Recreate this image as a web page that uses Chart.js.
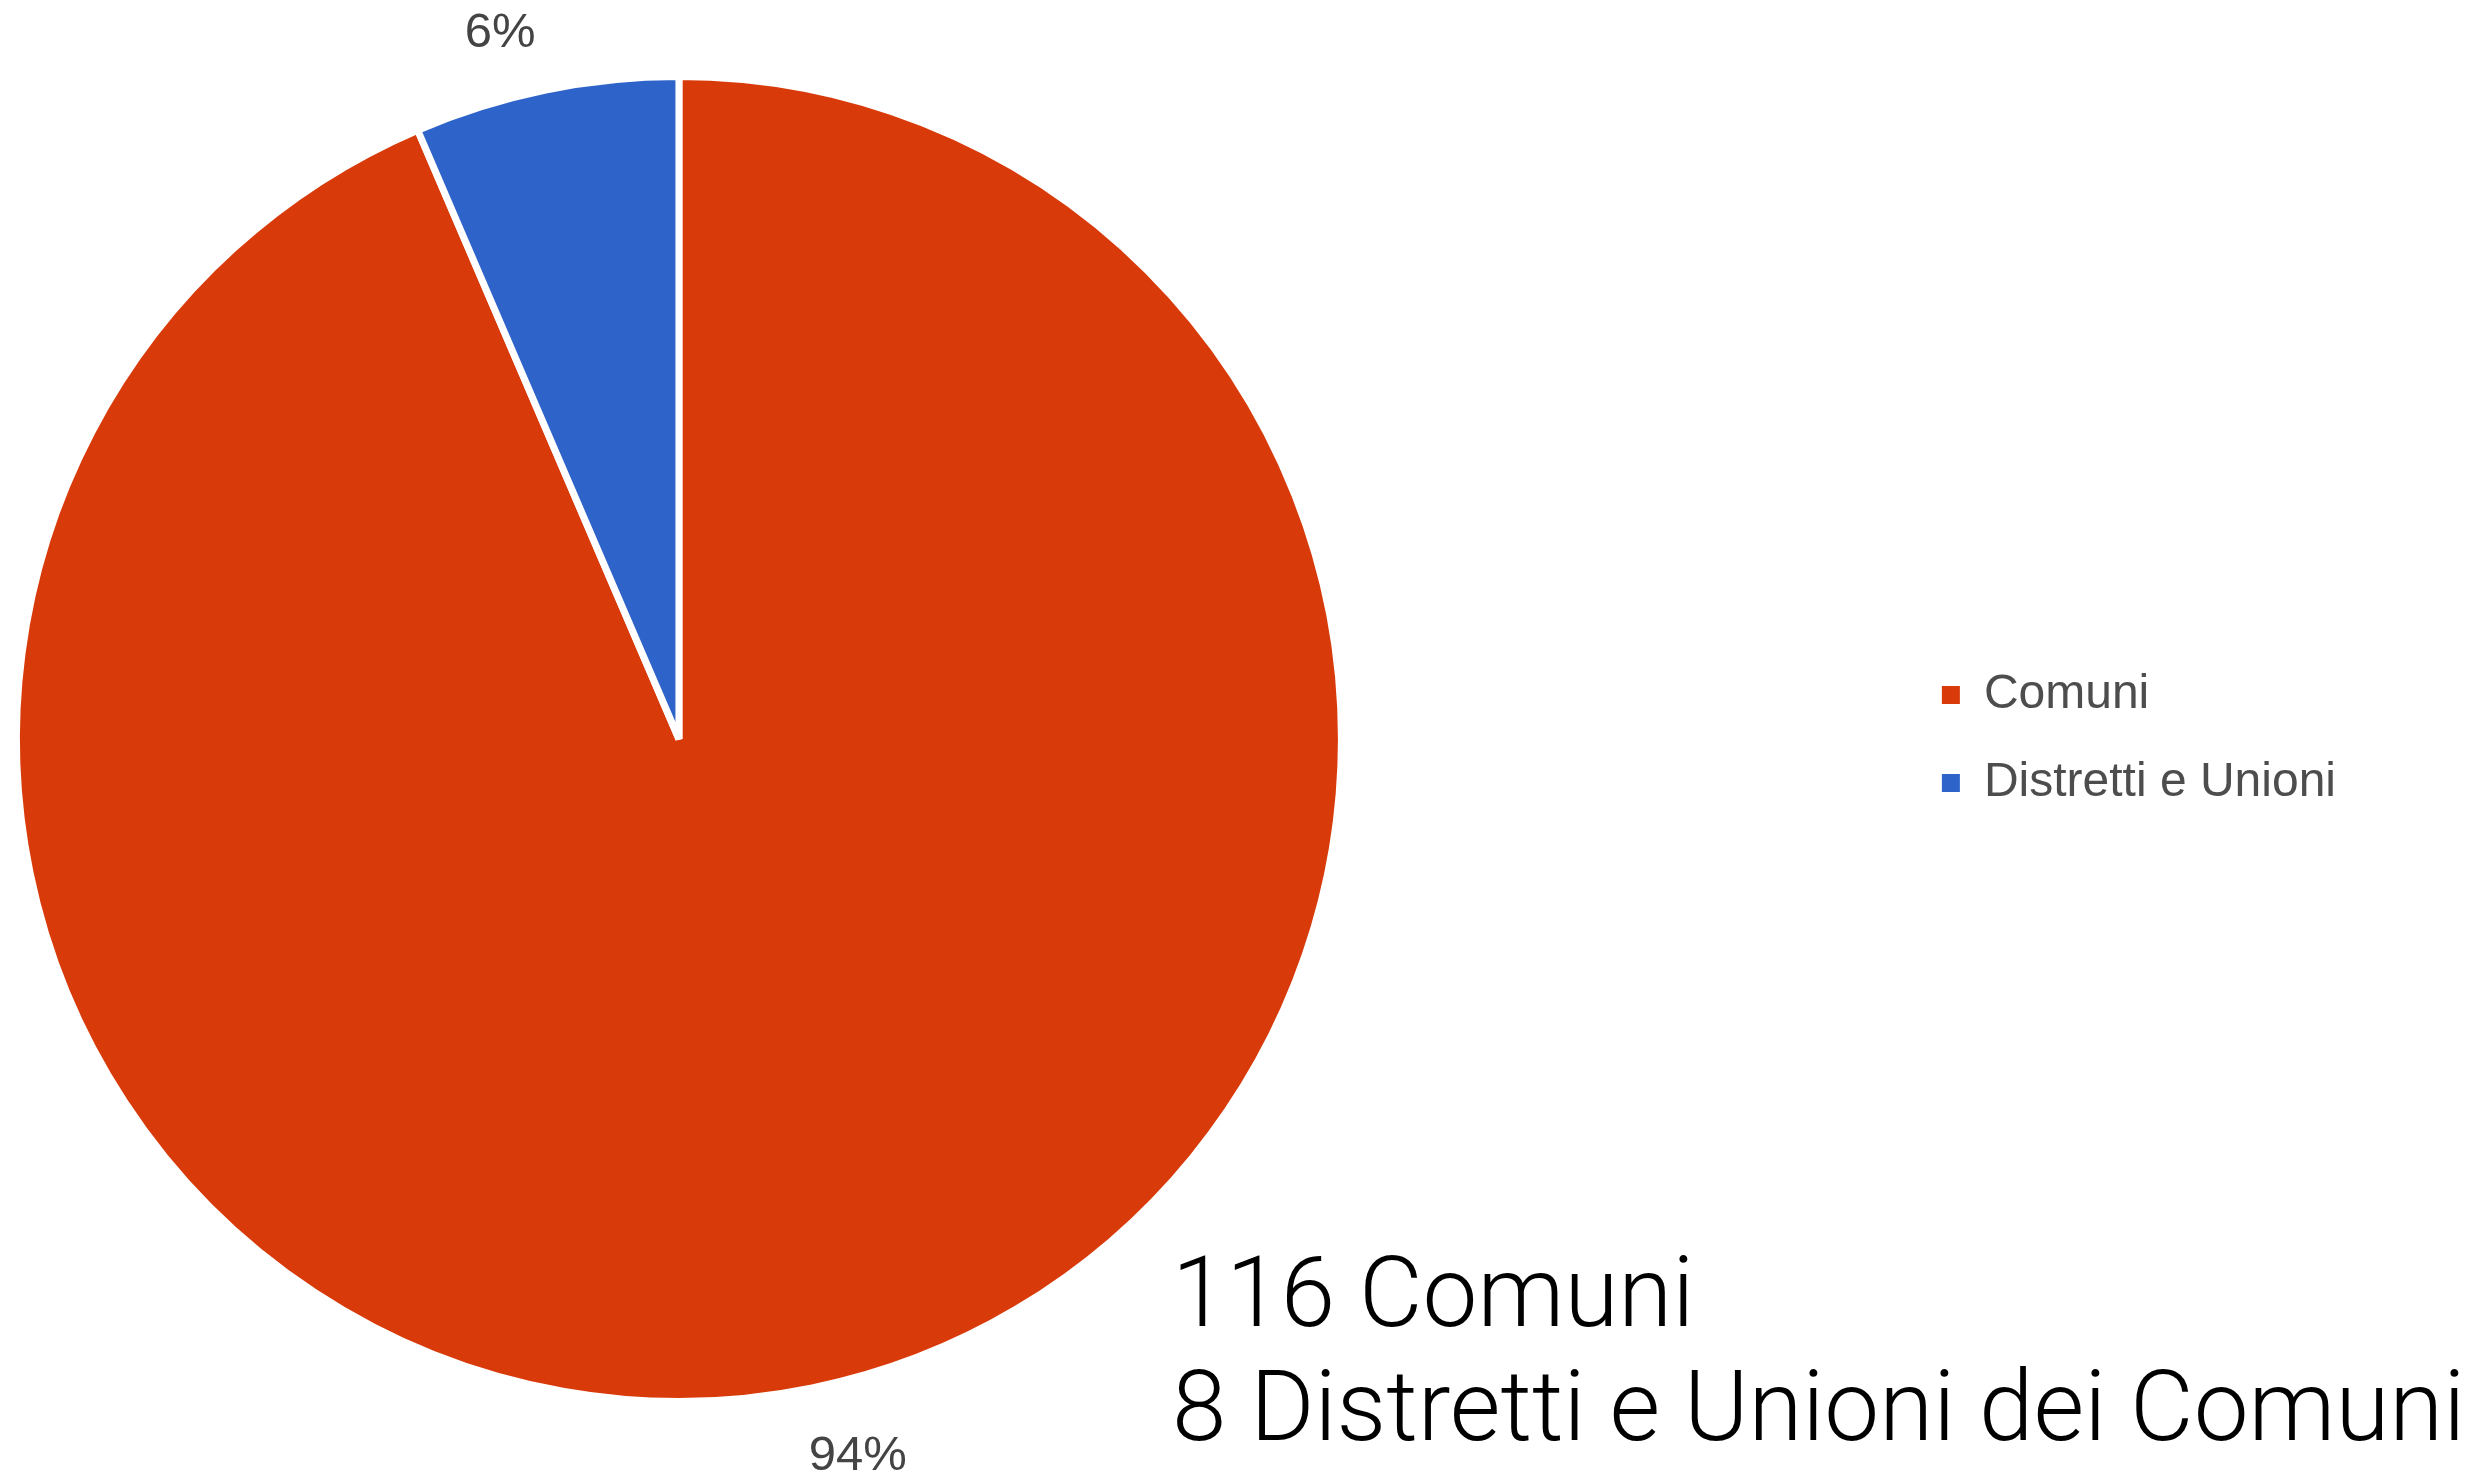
<!DOCTYPE html>
<html>
<head>
<meta charset="utf-8">
<script src="https://cdn.jsdelivr.net/npm/chart.js@4/dist/chart.umd.min.js"></script>
<style>
  html, body { margin: 0; padding: 0; background: #ffffff; }
  #wrap { position: relative; width: 2488px; height: 1478px; }
</style>
</head>
<body>
<div id="wrap"><canvas id="c"></canvas></div>
<script>
// ---- data ----
const categories = ['Comuni', 'Distretti e Unioni'];
const counts = [116, 8];
const sliceColors = ['#d93a09', '#2e64c9'];
const annotationLines = ['116 Comuni', '8 Distretti e Unioni dei Comuni'];

const pctLabelPlugin = {
  id: 'pctLabels',
  afterDatasetsDraw(chart) {
    const ctx = chart.ctx;
    const meta = chart.getDatasetMeta(0);
    const total = counts.reduce((a, b) => a + b, 0);
    ctx.save();
    ctx.font = '49px "Liberation Sans", Arial, sans-serif';
    ctx.fillStyle = '#444444';
    ctx.textAlign = 'center';
    ctx.textBaseline = 'middle';
    meta.data.forEach((arc, i) => {
      const p = arc.getProps(['x', 'y', 'startAngle', 'endAngle', 'outerRadius'], true);
      const mid = (p.startAngle + p.endAngle) / 2 - 2.5 * Math.PI / 180;
      const r = p.outerRadius + 71;
      const pct = Math.round(counts[i] / total * 100);
      ctx.fillText(pct + '%', p.x + r * Math.cos(mid), p.y + r * Math.sin(mid) + 6);
    });
    ctx.restore();
  }
};

const annotationPlugin = {
  id: 'annotation',
  afterDraw(chart) {
    const ctx = chart.ctx;
    ctx.save();
    ctx.font = '300 98px Roboto, "Liberation Sans", sans-serif';
    ctx.fillStyle = '#000000';
    ctx.textAlign = 'left';
    ctx.textBaseline = 'alphabetic';
    ctx.fillText(annotationLines[0], 1172, 1326);
    ctx.fillText(annotationLines[1], 1172, 1440);
    ctx.restore();
  }
};

const baseGen = Chart.overrides.doughnut.plugins.legend.labels.generateLabels;

new Chart(document.getElementById('c'), {
  type: 'pie',
  data: {
    labels: categories,
    datasets: [{
      data: counts,
      backgroundColor: sliceColors,
      borderColor: '#ffffff',
      borderWidth: 7
    }]
  },
  options: {
    responsive: true,
    maintainAspectRatio: false,
    animation: false,
    layout: { padding: { left: 0, top: 73, bottom: 73, right: 142 } },
    plugins: {
      tooltip: { enabled: false },
      title: {
        display: true,
        text: ' ',
        position: 'right',
        weight: 500,
        font: { size: 1, lineHeight: 1 },
        padding: { top: 272, bottom: 271 }
      },
      legend: {
        display: true,
        position: 'right',
        align: 'center',
        labels: {
          boxWidth: 18,
          boxHeight: 18,
          padding: 40,
          color: '#4d4d4d',
          font: { size: 48, family: '"Liberation Sans", Arial, sans-serif' },
          generateLabels(chart) {
            return baseGen(chart).map(it => Object.assign(it, { lineWidth: 0, strokeStyle: 'rgba(0,0,0,0)' }));
          }
        }
      }
    }
  },
  plugins: [pctLabelPlugin, annotationPlugin]
});
</script>
</body>
</html>
